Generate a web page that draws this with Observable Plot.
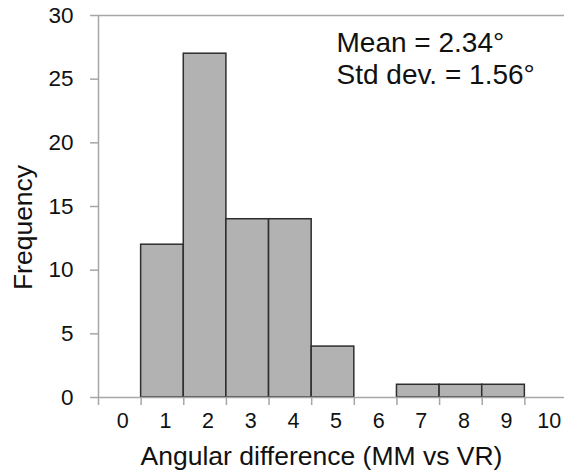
<!DOCTYPE html>
<html>
<head>
<meta charset="utf-8">
<script src="https://cdn.jsdelivr.net/npm/d3@7"></script>
<script src="https://cdn.jsdelivr.net/npm/@observablehq/plot@0.6"></script>
<style>
  html, body { margin: 0; padding: 0; background: #fff; }
  #chart svg { display: block; overflow: visible; }
</style>
</head>
<body>
<div id="chart"></div>
<script>
// Data
const bins = [0, 1, 2, 3, 4, 5, 6, 7, 8, 9, 10];
const counts = [0, 12, 27, 14, 14, 4, 0, 1, 1, 1, 0];
const yTicks = [0, 5, 10, 15, 20, 25, 30];
const meanDeg = 2.34;
const sdDeg = 1.56;
const xTitle = "Angular difference (MM vs VR)";
const yTitle = "Frequency";

const data = bins.map((b, i) => ({bin: b, count: counts[i]}));
const edges = d3.range(bins.length + 1).map(i => bins[0] - 0.5 + i);
const axisGray = "#a6a6a6";
const font = "'Liberation Sans', Arial, sans-serif";
const statSize = 28;

const chart = Plot.plot({
  width: 564,
  height: 475,
  marginTop: 15,
  marginBottom: 78,
  marginLeft: 98,
  marginRight: 0,
  style: {fontFamily: font, color: "#111", background: "#fff"},
  x: {type: "linear", domain: [edges[0], edges[edges.length - 1]], range: [98, 567]},
  y: {domain: [0, 30]},
  marks: [
    Plot.rectY(data.filter(d => d.count > 0), {
      x1: d => d.bin - 0.5,
      x2: d => d.bin + 0.5,
      y: "count",
      fill: "#b2b2b2",
      stroke: "#2e2e2e",
      strokeWidth: 1.5
    }),
    Plot.ruleY([0], {stroke: axisGray, strokeWidth: 1.5}),
    Plot.ruleY([30], {stroke: axisGray, strokeWidth: 1.5}),
    Plot.ruleX([edges[0]], {stroke: axisGray, strokeWidth: 1.5}),
    Plot.axisY({ticks: yTicks, tickSize: 8, tickPadding: 17, fontSize: 22.5, stroke: axisGray, strokeWidth: 1.5, label: null, tickFormat: d => String(d)}),
    Plot.axisX({ticks: edges, tickSize: 8, tickFormat: () => "", stroke: axisGray, strokeWidth: 1.5, label: null}),
    Plot.axisX({ticks: bins, tickSize: 0, tickPadding: 15, fontSize: 21.5, dx: 3, label: null, tickFormat: d => String(d)}),
    Plot.text([xTitle], {frameAnchor: "bottom", text: d => d, fontSize: 26.5, textAnchor: "middle", lineAnchor: "top", dx: -10, dy: 49}),
    Plot.text([yTitle], {frameAnchor: "left", text: d => d, fontSize: 26.5, rotate: -90, textAnchor: "middle", lineAnchor: "top", dx: -85, dy: 21}),
    Plot.text([`Mean = ${meanDeg.toFixed(2)}°`], {
      frameAnchor: "top-left", text: d => d, fontSize: statSize, textAnchor: "start", lineAnchor: "top", dx: 238, dy: 17
    }),
    Plot.text([`Std dev. = ${sdDeg.toFixed(2)}°`], {
      frameAnchor: "top-left", text: d => d, fontSize: statSize, textAnchor: "start", lineAnchor: "top", dx: 238, dy: 49
    })
  ]
});
document.getElementById("chart").appendChild(chart);
</script>
</body>
</html>
